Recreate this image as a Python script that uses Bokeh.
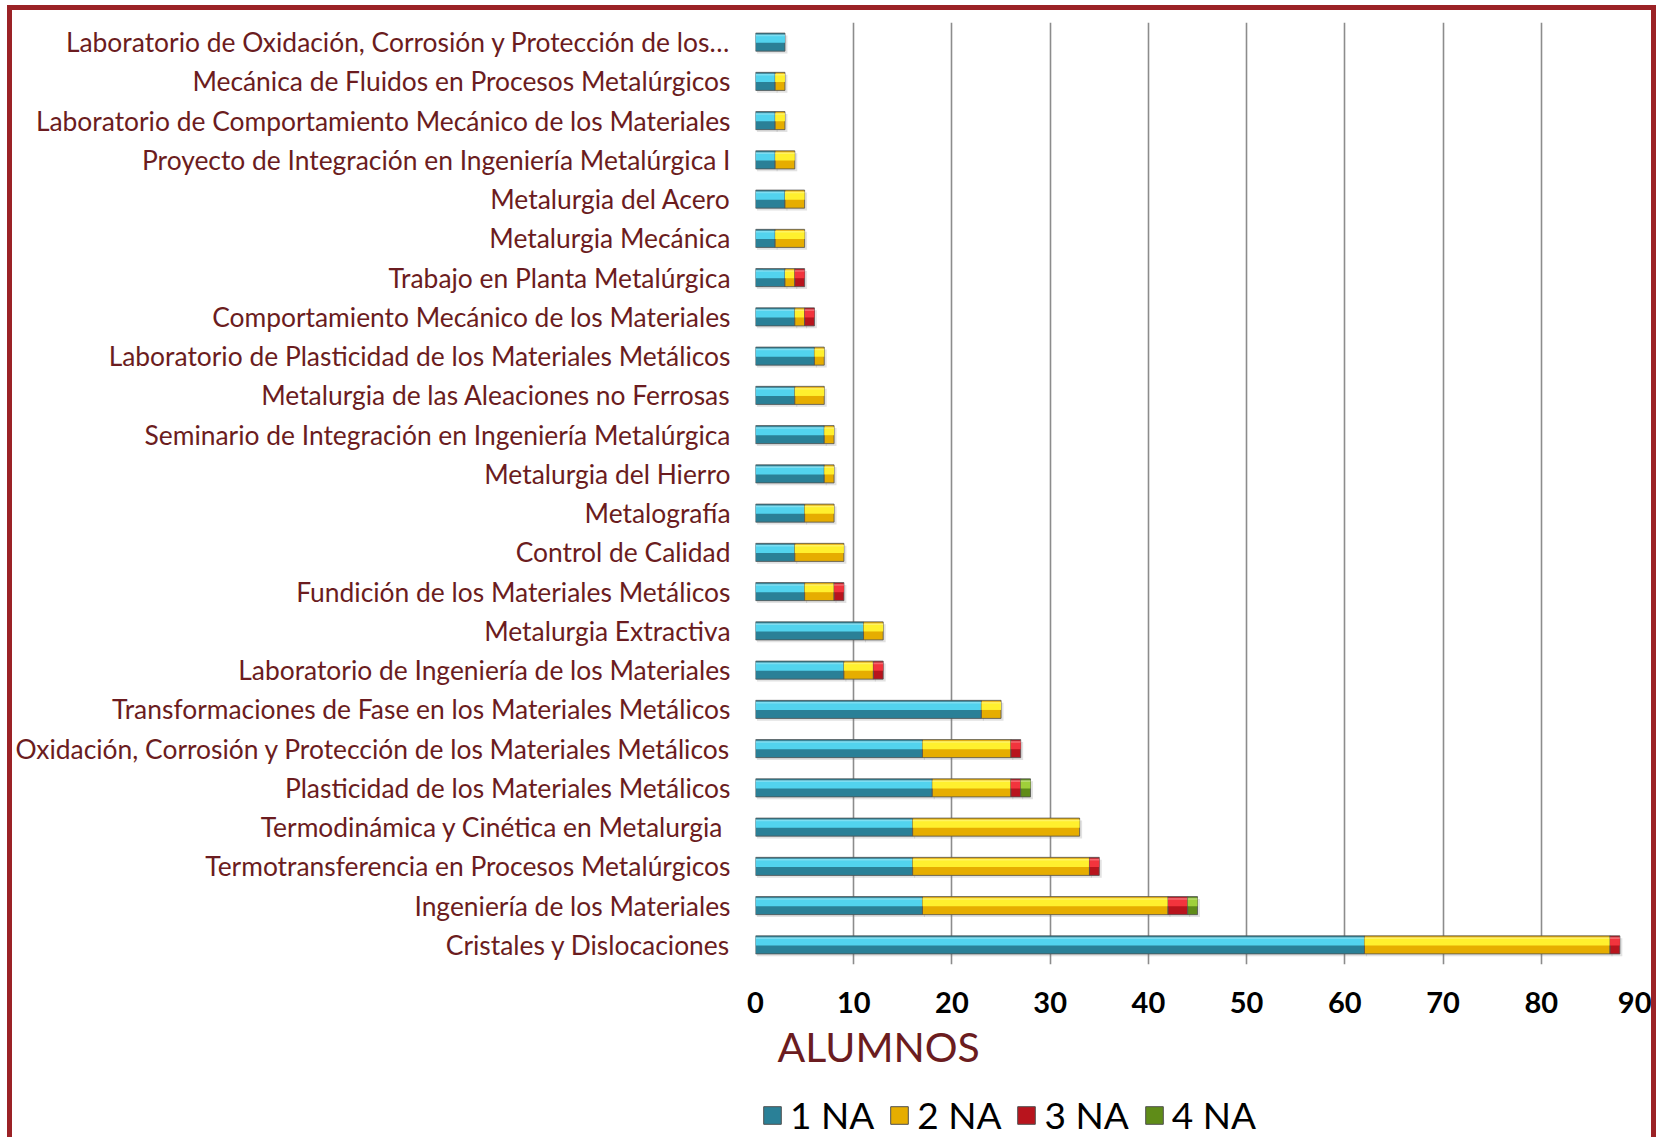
import numpy as np
from bokeh.plotting import figure
from bokeh.layouts import column
from bokeh.models import (ColumnDataSource, FactorRange, Range1d, Legend, LegendItem,
                          Title, FixedTicker)
from bokeh.transform import dodge
from bokeh.embed import file_html
from bokeh.resources import INLINE

# ---- data (top to bottom as in the chart) ----
categories = [
    "Laboratorio de Oxidación, Corrosión y Protección de los…",
    "Mecánica de Fluidos en Procesos Metalúrgicos",
    "Laboratorio de Comportamiento Mecánico de los Materiales",
    "Proyecto de Integración en Ingeniería Metalúrgica I",
    "Metalurgia del Acero",
    "Metalurgia Mecánica",
    "Trabajo en Planta Metalúrgica",
    "Comportamiento Mecánico de los Materiales",
    "Laboratorio de Plasticidad de los Materiales Metálicos",
    "Metalurgia de las Aleaciones no Ferrosas",
    "Seminario de Integración en Ingeniería Metalúrgica",
    "Metalurgia del Hierro",
    "Metalografía",
    "Control de Calidad",
    "Fundición de los Materiales Metálicos",
    "Metalurgia Extractiva",
    "Laboratorio de Ingeniería de los Materiales",
    "Transformaciones de Fase en los Materiales Metálicos",
    "Oxidación, Corrosión y Protección de los Materiales Metálicos",
    "Plasticidad de los Materiales Metálicos",
    "Termodinámica y Cinética en Metalurgia ",
    "Termotransferencia en Procesos Metalúrgicos",
    "Ingeniería de los Materiales",
    "Cristales y Dislocaciones",
]
na1 = [3, 2, 2, 2, 3, 2, 3, 4, 6, 4, 7, 7, 5, 4, 5, 11, 9, 23, 17, 18, 16, 16, 17, 62]
na2 = [0, 1, 1, 2, 2, 3, 1, 1, 1, 3, 1, 1, 3, 5, 3, 2, 3, 2, 9, 8, 17, 18, 25, 25]
na3 = [0, 0, 0, 0, 0, 0, 1, 1, 0, 0, 0, 0, 0, 0, 1, 0, 1, 0, 1, 1, 0, 1, 2, 1]
na4 = [0, 0, 0, 0, 0, 0, 0, 0, 0, 0, 0, 0, 0, 0, 0, 0, 0, 0, 0, 1, 0, 0, 1, 0]
series_names = ["1 NA", "2 NA", "3 NA", "4 NA"]
x_ticks = [0, 10, 20, 30, 40, 50, 60, 70, 80, 90]
axis_title = "ALUMNOS"

# ---- styles ----
dark_cols = ["#2a8097", "#e6ad00", "#b8141d", "#5f8c18"]
light_cols = ["#52d3ee", "#fff02e", "#f2343d", "#9fd03a"]
label_col = "#6b1c20"
frame_col = "#9b2226"

W = 1639
H1 = 1078
H2 = 49

p = figure(
    width=W, height=H1,
    y_range=FactorRange(factors=list(reversed(categories))),
    x_range=Range1d(0, 90),
    output_backend="svg", toolbar_location=None,
    min_border_left=742, min_border_right=12, min_border_top=12, min_border_bottom=124,
)
p.outline_line_color = None
p.background_fill_color = "white"
p.border_fill_color = "white"

# stacked segments
data_series = [na1, na2, na3, na4]
cum = np.zeros(len(categories))
for i, s in enumerate(data_series):
    s = np.array(s, dtype=float)
    left = cum.copy()
    right = cum + s
    cum = right
    mask = s > 0
    src = ColumnDataSource(dict(
        cat=[c for c, m in zip(categories, mask) if m],
        left=left[mask], right=right[mask],
        sleft=left[mask] + 0.15, sright=right[mask] + 0.25,
    ))
    # soft shadow
    p.hbar(y=dodge("cat", -0.06, range=p.y_range), left="sleft", right="sright",
           height=0.46, source=src, fill_color="#7a7a7a", fill_alpha=0.22, line_color=None)
    p.hbar(y="cat", left="left", right="right", height=0.46, source=src,
           fill_color=dark_cols[i], line_color="#505050", line_width=1, line_alpha=0.8)
    p.hbar(y=dodge("cat", 0.085, range=p.y_range), left="left", right="right",
           height=0.2, source=src, fill_color=light_cols[i], line_color=None)
    p.hbar(y=dodge("cat", 0.175, range=p.y_range), left="left", right="right",
           height=0.05, source=src, fill_color="white", fill_alpha=0.25, line_color=None)

# axes & grid
p.xaxis.ticker = FixedTicker(ticks=x_ticks)
p.xaxis.axis_line_color = None
p.xaxis.major_tick_line_color = None
p.xaxis.minor_tick_line_color = None
p.xaxis.major_tick_out = 0
p.xaxis.major_tick_in = 0
p.xaxis.major_label_standoff = 27
p.xaxis.major_label_text_font = "Lato"
p.xaxis.major_label_text_font_style = "bold"
p.xaxis.major_label_text_font_size = "29px"
p.xaxis.major_label_text_color = "black"

p.yaxis.axis_line_color = None
p.yaxis.major_tick_line_color = None
p.yaxis.minor_tick_line_color = None
p.yaxis.major_tick_out = 0
p.yaxis.major_tick_in = 0
p.yaxis.major_label_standoff = 25
p.yaxis.major_label_text_font = "Lato"
p.yaxis.major_label_text_font_size = "26.4px"
p.yaxis.major_label_text_color = label_col

p.ygrid.grid_line_color = None
p.xgrid.grid_line_color = "#8c8c8c"
p.xgrid.grid_line_width = 1.6

# axis title (below the tick labels, left aligned)
p.add_layout(Title(text=axis_title, align="left", offset=22, standoff=8,
                   text_font="Lato", text_font_size="41px", text_font_style="normal",
                   text_color=label_col), "below")

# ---- legend strip (proxy glyphs kept outside the visible range) ----
p2 = figure(width=W, height=H2, x_range=Range1d(0, 1), y_range=Range1d(0, 1),
            output_backend="svg", toolbar_location=None,
            min_border_left=742, min_border_right=12, min_border_top=0, min_border_bottom=0)
p2.axis.visible = False
p2.grid.visible = False
p2.outline_line_color = None
p2.border_fill_color = "white"
items = []
for i, name in enumerate(series_names):
    r = p2.hbar(y=[-10], left=[0], right=[1], height=0.5, fill_color=dark_cols[i],
                line_color="#505050", line_width=1)
    items.append(LegendItem(label=name, renderers=[r]))
legend = Legend(items=items, orientation="horizontal", location=(6, 0),
                label_text_font="Lato", label_text_font_size="37px",
                label_text_color="black", glyph_width=22, glyph_height=22,
                label_standoff=7, spacing=14, padding=0, margin=0,
                border_line_color=None, background_fill_alpha=0)
p2.add_layout(legend, "center")

layout = column(p, p2, spacing=0)
layout.styles = {
    "border-top": f"5px solid {frame_col}",
    "border-left": f"5px solid {frame_col}",
    "border-right": f"5px solid {frame_col}",
    "margin-top": "5px",
    "margin-left": "7px",
}

open("out.html", "w").write(file_html(layout, INLINE))
